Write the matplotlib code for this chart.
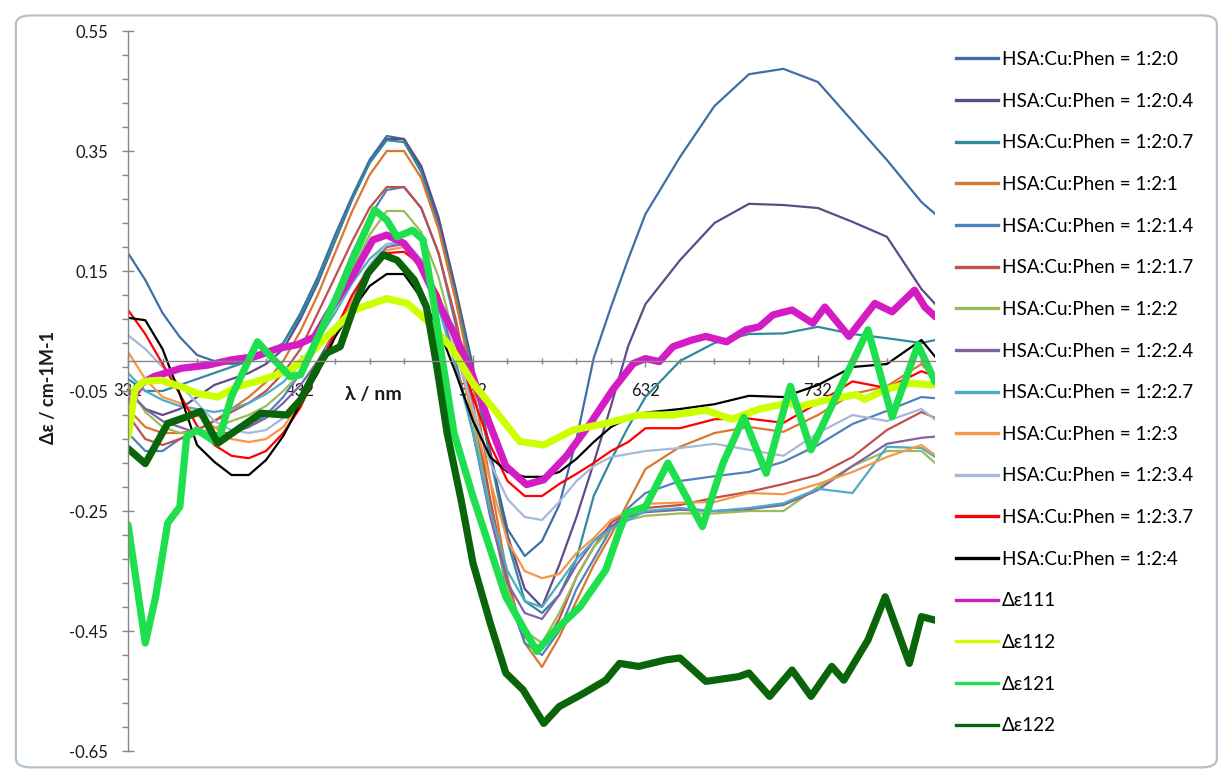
import matplotlib
matplotlib.use("Agg")
import matplotlib.pyplot as plt
from matplotlib.lines import Line2D
from matplotlib.patches import FancyBboxPatch
import numpy as np

plt.rcParams['font.family'] = ['Lato', 'DejaVu Sans']

# ---- data -------------------------------------------------------------
wavelength = [332, 342, 352, 362, 372, 382, 392, 402, 412, 422,
              432, 442, 452, 462, 472, 482, 492, 502, 512, 522,
              532, 542, 552, 562, 572, 582, 592, 602, 612, 622,
              632, 652, 672, 692, 712, 732, 752, 772, 792, 800]

ratio_0 = [0.18, 0.135, 0.08, 0.04, 0.01, 0.0, -0.005, 0.0, 0.01, 0.03,
           0.08, 0.14, 0.21, 0.275, 0.335, 0.375, 0.37, 0.32, 0.23, 0.11,
           -0.02, -0.16, -0.28, -0.325, -0.30, -0.24, -0.13, 0.005, 0.09, 0.17,
           0.245, 0.34, 0.425, 0.478, 0.487, 0.465, 0.40, 0.335, 0.265, 0.245]
ratio_04 = [-0.05, -0.08, -0.09, -0.08, -0.06, -0.04, -0.03, -0.02, -0.005, 0.02,
            0.07, 0.13, 0.2, 0.27, 0.33, 0.37, 0.37, 0.325, 0.24, 0.12,
            -0.01, -0.15, -0.29, -0.38, -0.41, -0.34, -0.26, -0.17, -0.075, 0.025,
            0.095, 0.168, 0.23, 0.262, 0.26, 0.255, 0.232, 0.207, 0.12, 0.095]
ratio_07 = [-0.03, -0.05, -0.05, -0.04, -0.03, -0.02, -0.01, 0.0, 0.01, 0.03,
            0.075, 0.135, 0.2, 0.27, 0.33, 0.368, 0.365, 0.315, 0.225, 0.11,
            -0.02, -0.16, -0.3, -0.4, -0.42, -0.39, -0.33, -0.225, -0.165, -0.11,
            -0.06, 0.0, 0.03, 0.045, 0.046, 0.057, 0.045, 0.038, 0.03, 0.035]
ratio_1 = [-0.08, -0.11, -0.12, -0.12, -0.115, -0.1, -0.08, -0.06, -0.035, 0.0,
           0.05, 0.11, 0.18, 0.25, 0.31, 0.35, 0.35, 0.305, 0.22, 0.1,
           -0.04, -0.2, -0.36, -0.47, -0.51, -0.46, -0.40, -0.34, -0.29, -0.235,
           -0.18, -0.143, -0.12, -0.11, -0.118, -0.09, -0.055, -0.042, -0.005, -0.03]
ratio_14 = [-0.12, -0.15, -0.15, -0.13, -0.12, -0.12, -0.12, -0.11, -0.09, -0.06,
            -0.02, 0.04, 0.11, 0.18, 0.24, 0.285, 0.29, 0.255, 0.18, 0.06,
            -0.08, -0.24, -0.39, -0.47, -0.49, -0.45, -0.38, -0.33, -0.28, -0.245,
            -0.22, -0.2, -0.192, -0.185, -0.168, -0.14, -0.105, -0.083, -0.06, -0.062]
ratio_17 = [-0.09, -0.13, -0.14, -0.13, -0.115, -0.1, -0.085, -0.07, -0.05, -0.02,
            0.02, 0.08, 0.14, 0.2, 0.255, 0.29, 0.29, 0.255, 0.18, 0.07,
            -0.07, -0.23, -0.37, -0.46, -0.48, -0.43, -0.36, -0.31, -0.27, -0.25,
            -0.245, -0.24, -0.228, -0.218, -0.205, -0.19, -0.16, -0.115, -0.085, -0.095]
ratio_2 = [-0.04, -0.085, -0.11, -0.12, -0.12, -0.112, -0.1, -0.09, -0.075, -0.05,
           -0.02, 0.03, 0.09, 0.15, 0.21, 0.25, 0.25, 0.215, 0.14, 0.03,
           -0.1, -0.25, -0.38, -0.45, -0.47, -0.42, -0.36, -0.31, -0.28, -0.265,
           -0.258, -0.254, -0.254, -0.25, -0.25, -0.21, -0.175, -0.15, -0.15, -0.17]
ratio_24 = [-0.05, -0.08, -0.1, -0.11, -0.12, -0.125, -0.12, -0.11, -0.095, -0.07,
            -0.04, 0.0, 0.05, 0.1, 0.155, 0.19, 0.195, 0.165, 0.1, 0.0,
            -0.12, -0.26, -0.37, -0.42, -0.43, -0.39, -0.34, -0.3, -0.275, -0.26,
            -0.252, -0.248, -0.25, -0.247, -0.24, -0.215, -0.175, -0.138, -0.128, -0.126]
ratio_27 = [-0.02, -0.05, -0.065, -0.075, -0.08, -0.085, -0.08, -0.07, -0.055, -0.035,
            -0.005, 0.035, 0.08, 0.13, 0.17, 0.195, 0.195, 0.16, 0.09, -0.01,
            -0.12, -0.25, -0.35, -0.4, -0.41, -0.37, -0.33, -0.3, -0.28, -0.265,
            -0.25, -0.245, -0.25, -0.245, -0.237, -0.213, -0.22, -0.143, -0.145, -0.16]
ratio_3 = [0.015, -0.03, -0.06, -0.07, -0.09, -0.11, -0.13, -0.135, -0.13, -0.11,
           -0.07, -0.02, 0.04, 0.1, 0.15, 0.185, 0.19, 0.165, 0.11, 0.02,
           -0.09, -0.2, -0.3, -0.35, -0.362, -0.355, -0.32, -0.295, -0.265, -0.25,
           -0.238, -0.236, -0.235, -0.22, -0.222, -0.205, -0.185, -0.16, -0.14, -0.157]
ratio_34 = [0.043, 0.02, -0.01, -0.04, -0.07, -0.1, -0.115, -0.12, -0.115, -0.095,
            -0.06, -0.01, 0.05, 0.11, 0.16, 0.195, 0.2, 0.17, 0.11, 0.02,
            -0.08, -0.17, -0.23, -0.26, -0.265, -0.235, -0.2, -0.175, -0.16, -0.155,
            -0.15, -0.145, -0.138, -0.148, -0.158, -0.12, -0.09, -0.1, -0.08, -0.098]
ratio_37 = [0.085, 0.045, -0.005, -0.055, -0.108, -0.14, -0.158, -0.162, -0.15, -0.12,
            -0.077, -0.015, 0.05, 0.11, 0.155, 0.18, 0.182, 0.16, 0.11, 0.03,
            -0.06, -0.14, -0.2, -0.225, -0.225, -0.205, -0.188, -0.17, -0.15, -0.135,
            -0.112, -0.112, -0.097, -0.096, -0.103, -0.07, -0.034, -0.045, -0.017, -0.025]
ratio_4 = [0.072, 0.068, 0.02, -0.055, -0.14, -0.168, -0.19, -0.19, -0.165, -0.125,
           -0.07, -0.02, 0.04, 0.085, 0.125, 0.145, 0.145, 0.105, 0.055, -0.02,
           -0.1, -0.16, -0.185, -0.193, -0.193, -0.185, -0.163, -0.135, -0.11, -0.095,
           -0.086, -0.08, -0.072, -0.058, -0.06, -0.04, -0.01, -0.005, 0.035, 0.007]

# difference spectra
de111_x = [332, 340, 347, 363, 378, 392, 405, 419, 430, 440, 448, 463, 474, 482,
           492, 501, 511, 521, 530, 541, 551, 563, 573, 586, 600, 613, 625, 632,
           640, 648, 659, 667, 679, 690, 698, 706, 717, 729, 736, 750, 765, 775,
           788, 794, 800]
de111_y = [-0.076, -0.037, -0.026, -0.012, -0.007, 0.002, 0.007, 0.021, 0.027, 0.04,
           0.079, 0.146, 0.202, 0.21, 0.196, 0.163, 0.102, 0.046, -0.01, -0.1,
           -0.175, -0.206, -0.198, -0.159, -0.104, -0.048, -0.004, 0.004, -0.001,
           0.024, 0.035, 0.041, 0.032, 0.052, 0.057, 0.077, 0.085, 0.063, 0.09,
           0.041, 0.096, 0.082, 0.118, 0.09, 0.074]

de112_x = [332, 336, 341, 351, 363, 372, 384, 395, 409, 426, 436, 447, 463, 482,
           494, 505, 519, 532, 546, 559, 573, 590, 609, 628, 648, 667, 682, 698,
           715, 721, 737, 754, 759, 771, 785, 800]
de112_y = [-0.126, -0.048, -0.034, -0.032, -0.043, -0.054, -0.06, -0.043, -0.032,
           -0.015, 0.007, 0.04, 0.085, 0.104, 0.096, 0.068, 0.024, -0.037, -0.087,
           -0.134, -0.14, -0.115, -0.104, -0.09, -0.09, -0.082, -0.097, -0.08,
           -0.07, -0.076, -0.065, -0.056, -0.064, -0.048, -0.037, -0.04]

de121_x = [332, 342, 348, 355, 362, 366, 372, 384, 392, 407, 415, 426, 432, 444,
           453, 463, 475, 482, 488, 497, 503, 509, 513, 521, 532, 551, 569, 580,
           594, 609, 617, 621, 632, 645, 665, 677, 689, 702, 716, 728, 744, 761,
           775, 790, 800]
de121_y = [-0.273, -0.47, -0.393, -0.27, -0.243, -0.126, -0.115, -0.137, -0.059,
           0.032, 0.007, -0.026, -0.023, 0.052, 0.107, 0.174, 0.252, 0.235, 0.207,
           0.218, 0.202, 0.102, 0.024, -0.12, -0.226, -0.393, -0.484, -0.448, -0.41,
           -0.348, -0.282, -0.254, -0.243, -0.17, -0.276, -0.17, -0.094, -0.187,
           -0.042, -0.148, -0.05, 0.052, -0.093, 0.027, -0.035]

de122_x = [332, 342, 355, 366, 374, 384, 395, 409, 424, 432, 440, 447, 455, 463,
           471, 480, 488, 498, 505, 511, 517, 525, 532, 542, 551, 561, 573, 582,
           596, 609, 617, 628, 644, 652, 667, 686, 692, 704, 717, 728, 740, 747,
           761, 771, 785, 792, 800]
de122_y = [-0.146, -0.171, -0.104, -0.093, -0.084, -0.137, -0.115, -0.087, -0.09,
           -0.065, -0.02, 0.013, 0.024, 0.09, 0.146, 0.177, 0.168, 0.135, 0.09,
           -0.009, -0.12, -0.23, -0.337, -0.437, -0.52, -0.548, -0.604, -0.576,
           -0.554, -0.532, -0.504, -0.509, -0.498, -0.495, -0.534, -0.526, -0.52,
           -0.559, -0.515, -0.559, -0.509, -0.532, -0.465, -0.393, -0.504, -0.426,
           -0.432]

ratio_labels = ["HSA:Cu:Phen = 1:2:0", "HSA:Cu:Phen = 1:2:0.4", "HSA:Cu:Phen = 1:2:0.7",
                "HSA:Cu:Phen = 1:2:1", "HSA:Cu:Phen = 1:2:1.4", "HSA:Cu:Phen = 1:2:1.7",
                "HSA:Cu:Phen = 1:2:2", "HSA:Cu:Phen = 1:2:2.4", "HSA:Cu:Phen = 1:2:2.7",
                "HSA:Cu:Phen = 1:2:3", "HSA:Cu:Phen = 1:2:3.4", "HSA:Cu:Phen = 1:2:3.7",
                "HSA:Cu:Phen = 1:2:4"]
ratio_series = [ratio_0, ratio_04, ratio_07, ratio_1, ratio_14, ratio_17, ratio_2,
                ratio_24, ratio_27, ratio_3, ratio_34, ratio_37, ratio_4]
ratio_colors = ["#3F6EA6", "#5F4A87", "#2F8A9E", "#DA7630", "#4F81BD", "#C0504D",
                "#9BBB59", "#8064A2", "#4BACC6", "#F79646", "#A5B9D9", "#FF0000",
                "#000000"]

diff_labels = ["Δε111", "Δε112", "Δε121", "Δε122"]
diff_series = [(de111_x, de111_y), (de112_x, de112_y), (de121_x, de121_y), (de122_x, de122_y)]
diff_colors = ["#D41CC4", "#CCFF00", "#1EE04E", "#0A650A"]

x_major = [332, 432, 532, 632, 732]
y_major = [-0.65, -0.45, -0.25, -0.05, 0.15, 0.35, 0.55]

# ---- figure -----------------------------------------------------------
fig = plt.figure(figsize=(12.23, 7.72), dpi=100)
fig.patch.set_facecolor("white")

frame = FancyBboxPatch((0.013, 0.006), 0.982, 0.974, transform=fig.transFigure,
                       boxstyle="round,pad=0,rounding_size=0.012",
                       facecolor="none", edgecolor="#B4C0CC", linewidth=1.6,
                       zorder=-1)
fig.patches.append(frame)

ax = fig.add_axes([0.1047, 0.0272, 0.66, 0.9326])
ax.set_facecolor("none")

for vals, col, lab in zip(ratio_series, ratio_colors, ratio_labels):
    ax.plot(wavelength, vals, color=col, lw=1.6, label=lab, solid_joinstyle="round")
for (xs, ys), col, lab in zip(diff_series, diff_colors, diff_labels):
    ax.plot(xs, ys, color=col, lw=5.2, label=lab, solid_joinstyle="round",
            solid_capstyle="round")

ax.set_xlim(332, 800)
ax.set_ylim(-0.65, 0.55)

axis_grey = "#868686"
for side in ("top", "right"):
    ax.spines[side].set_visible(False)
ax.spines["bottom"].set_position(("data", 0))
ax.spines["bottom"].set_color(axis_grey)
ax.spines["left"].set_color(axis_grey)
ax.spines["bottom"].set_linewidth(1.0)
ax.spines["left"].set_linewidth(1.0)

ax.set_xticks(x_major)
ax.set_xticks(np.arange(332, 801, 20), minor=True)
ax.set_yticks(y_major)
ax.set_yticks(np.arange(-0.65, 0.551, 0.04), minor=True)
ax.set_xticklabels([str(v) for v in x_major])
ax.set_yticklabels([f"{v:.2f}" for v in y_major])

ax.tick_params(axis="x", which="major", direction="inout", length=8, width=1,
               color=axis_grey, pad=12, labelsize=12, labelcolor="#1a1a1a")
ax.tick_params(axis="x", which="minor", direction="inout", length=5, width=1,
               color=axis_grey)
ax.tick_params(axis="y", which="major", direction="inout", length=9, width=1,
               color=axis_grey, pad=10, labelsize=12, labelcolor="#1a1a1a")
ax.tick_params(axis="y", which="minor", direction="out", length=4, width=1,
               color=axis_grey)

ax.text(474, -0.055, "λ / nm", fontsize=14, fontweight="bold", ha="center",
        va="center", color="#1a1a1a")
fig.text(0.040, 0.498, "Δε / cm-1M-1", rotation=90, fontsize=13,
         fontweight="bold", ha="center", va="center", color="#1a1a1a")

handles = [Line2D([0], [0], color=c, lw=2.4) for c in ratio_colors + diff_colors]
fig.legend(handles, ratio_labels + diff_labels, loc="upper left",
           bbox_to_anchor=(0.7815, 0.934), frameon=False, fontsize=13.6,
           handlelength=2.25, handletextpad=0.18, labelspacing=1.305,
           borderaxespad=0, borderpad=0)

fig.savefig("out.png", dpi=100, facecolor="white")
